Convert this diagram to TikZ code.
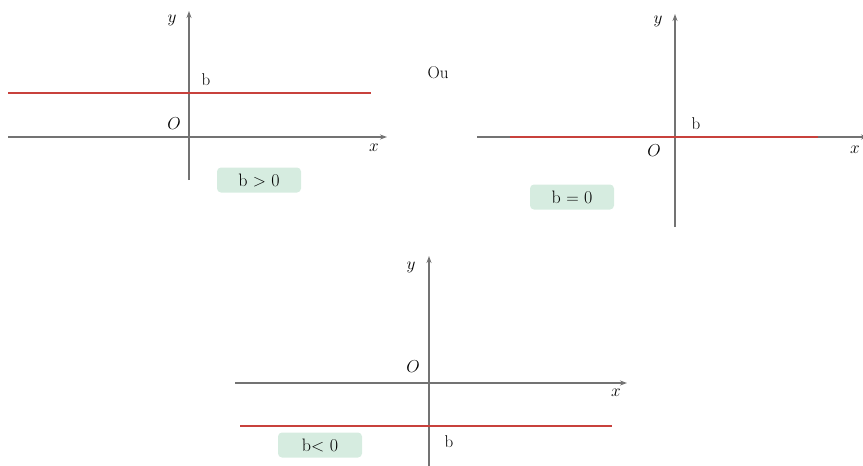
\documentclass[tikz,border=0pt]{standalone}
\usepackage{tikz}
\usetikzlibrary{arrows.meta, positioning}
\definecolor{axisgray}{RGB}{115,115,115}
\definecolor{linered}{RGB}{200,65,60}
\definecolor{tagfill}{RGB}{214,236,224}

\begin{document}
\begin{tikzpicture}[x=1pt, y=-1pt,
      axis/.style={axisgray, line width=1.2pt, -{Stealth[length=7pt, width=5pt]}},
      hline/.style={linered, line width=1.4pt},
      lbl/.style={font=\fontsize{17}{19}\selectfont, inner sep=1pt},
      tag/.style={fill=tagfill, rounded corners=4pt, font=\fontsize{18}{20}\selectfont,
                  minimum width=84pt, minimum height=25pt, inner sep=2pt},
    ]
    \useasboundingbox (0,0) rectangle (863,466);
    % panel b > 0
    \coordinate (ax1l) at (8,137);
    \coordinate (ax1r) at (387,137);
    \coordinate (ay1b) at (189,180);
    \coordinate (ay1t) at (189,11);
    \coordinate (r1l) at (8,93);
    \coordinate (r1r) at (371,93);
    \draw[axis] (ax1l) -- (ax1r);
    \draw[axis] (ay1b) -- (ay1t);
    \draw[hline] (r1l) -- (r1r);
    \node[lbl] (y1) at (172,20) {$y$};
    \node[lbl] (x1) at (374,148) {$x$};
    \node[lbl] (o1) at (174,124) {$O$};
    \node[lbl] (b1) at (206,80) {b};
    \node[tag] (t1) at (259,180) {b $>$ 0};
    % or
    \node[lbl] (ou) at (438,73) {Ou};
    % panel b = 0
    \coordinate (ax2l) at (477,137);
    \coordinate (ax2r) at (868,137);
    \coordinate (ay2b) at (675,227);
    \coordinate (ay2t) at (675,14);
    \coordinate (r2l) at (510,137);
    \coordinate (r2r) at (818,137);
    \draw[axis] (ax2l) -- (ax2r);
    \draw[axis] (ay2b) -- (ay2t);
    \draw[hline] (r2l) -- (r2r);
    \node[lbl] (y2) at (658,21) {$y$};
    \node[lbl] (x2) at (855,150) {$x$};
    \node[lbl] (o2) at (654,151) {$O$};
    \node[lbl] (b2) at (696,124) {b};
    \node[tag] (t2) at (572,197) {b $=$ 0};
    % panel b < 0
    \coordinate (ax3l) at (235,383);
    \coordinate (ax3r) at (627,383);
    \coordinate (ay3b) at (429,470);
    \coordinate (ay3t) at (429,256);
    \coordinate (r3l) at (240,426);
    \coordinate (r3r) at (612,426);
    \draw[axis] (ax3l) -- (ax3r);
    \draw[axis] (ay3b) -- (ay3t);
    \draw[hline] (r3l) -- (r3r);
    \node[lbl] (y3) at (411,267) {$y$};
    \node[lbl] (x3) at (616,393) {$x$};
    \node[lbl] (o3) at (413,367) {$O$};
    \node[lbl] (b3) at (449,442) {b};
    \node[tag] (t3) at (320,445) {b$<$ 0};
  \end{tikzpicture}
\end{document}
